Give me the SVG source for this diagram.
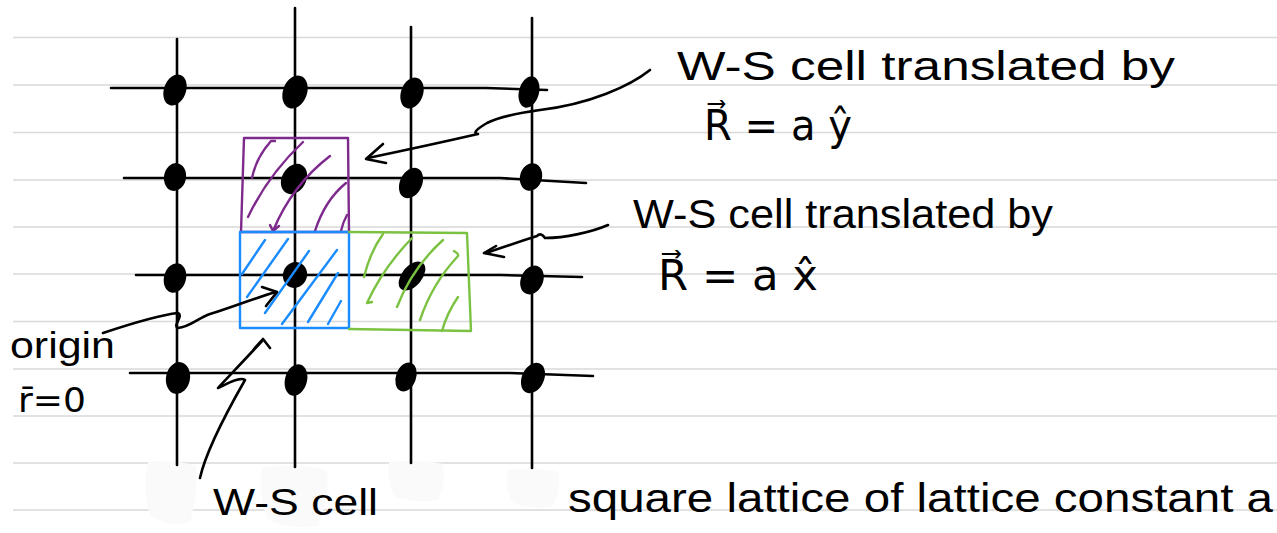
<svg xmlns="http://www.w3.org/2000/svg" width="1277" height="533" viewBox="0 0 1277 533">
<style>
.rule{stroke:#d9d9d9;stroke-width:1.5;fill:none}
.ink{stroke:#000;stroke-width:2.6;fill:none;stroke-linecap:round;stroke-linejoin:round}
.dot{fill:#000}
.pur{stroke:#7e2a8c;stroke-width:2.4;fill:none;stroke-linecap:round;stroke-linejoin:round}
.blu{stroke:#1a8cff;stroke-width:2.4;fill:none;stroke-linecap:round;stroke-linejoin:round}
.grn{stroke:#7cc242;stroke-width:2.4;fill:none;stroke-linecap:round;stroke-linejoin:round}
.txt{font-family:"Liberation Sans",Arial,sans-serif;fill:#000}
.eq{font-family:"DejaVu Sans",sans-serif;fill:#000}
.erase{fill:#fafafa}
</style>
<rect width="1277" height="533" fill="#ffffff"/>
<g id="ruled-lines">
<path class="rule" d="M13 37.5H1277M13 85H1277M13 132.5H1277M13 180H1277M13 227H1277M13 274H1277M13 321.5H1277M13 369H1277M13 416H1277M13 463H1277M13 510H1277"/>
</g>
<g id="erased-marks">
<path class="erase" d="M148 462Q172 458 196 466Q198 495 190 522Q168 528 150 515Q142 490 148 462Z"/>
<path class="erase" d="M262 468Q295 462 327 470Q330 498 318 526Q292 530 268 520Q258 495 262 468Z"/>
<path class="erase" d="M389 462Q418 458 443 464Q446 484 438 500Q414 504 394 496Q386 480 389 462Z"/>
<path class="erase" d="M508 470Q534 466 559 472Q561 492 552 507Q528 510 512 502Q504 486 508 470Z"/>
</g>
<g id="lattice-lines">
<path class="ink" d="M111 88L486 88L547 90"/>
<path class="ink" d="M124 178L500 178L586 183"/>
<path class="ink" d="M136 275L500 275L582 277"/>
<path class="ink" d="M130 373L510 373L593 376"/>
<path class="ink" d="M177 39V465"/>
<path class="ink" d="M295 8V467"/>
<path class="ink" d="M411 27V463"/>
<path class="ink" d="M532 18V468"/>
</g>
<g id="lattice-points">
<ellipse class="dot" cx="175" cy="90" rx="11" ry="16" transform="rotate(20 175 90)"/>
<ellipse class="dot" cx="295" cy="92" rx="12" ry="17" transform="rotate(20 295 92)"/>
<ellipse class="dot" cx="412" cy="93" rx="11" ry="16" transform="rotate(20 412 93)"/>
<ellipse class="dot" cx="529" cy="92" rx="10" ry="16" transform="rotate(15 529 92)"/>
<ellipse class="dot" cx="175" cy="177" rx="11" ry="14" transform="rotate(10 175 177)"/>
<ellipse class="dot" cx="294" cy="179" rx="12" ry="16" transform="rotate(30 294 179)"/>
<ellipse class="dot" cx="411" cy="183" rx="11" ry="16" transform="rotate(25 411 183)"/>
<ellipse class="dot" cx="531" cy="177" rx="11" ry="14" transform="rotate(15 531 177)"/>
<ellipse class="dot" cx="175" cy="278" rx="11" ry="15" transform="rotate(15 175 278)"/>
<ellipse class="dot" cx="295" cy="275" rx="12" ry="13" transform="rotate(20 295 275)"/>
<ellipse class="dot" cx="412" cy="276" rx="10" ry="17" transform="rotate(40 412 276)"/>
<ellipse class="dot" cx="532" cy="280" rx="11" ry="15" transform="rotate(25 532 280)"/>
<ellipse class="dot" cx="178" cy="378" rx="12" ry="16" transform="rotate(10 178 378)"/>
<ellipse class="dot" cx="296" cy="380" rx="11" ry="16" transform="rotate(15 296 380)"/>
<ellipse class="dot" cx="406" cy="377" rx="10" ry="15" transform="rotate(20 406 377)"/>
<ellipse class="dot" cx="533" cy="378" rx="11" ry="16" transform="rotate(25 533 378)"/>
</g>
<g id="ws-cell-translated-y">
<path class="pur" d="M244 138H348L349 232H241Z"/>
<path class="pur" d="M275 141L271 141Q256 158 252 178"/>
<path class="pur" d="M303 142Q268 175 248 217"/>
<path class="pur" d="M330 156Q292 185 273 231L270 225M273 231L279 226"/>
<path class="pur" d="M346 183Q325 200 315 231"/>
<path class="pur" d="M347 215Q343 222 341 231"/>
</g>
<g id="ws-cell">
<path class="blu" d="M240 232H349V328H240Z"/>
<path class="blu" d="M265 240L242 274"/>
<path class="blu" d="M288 239L247 297"/>
<path class="blu" d="M309 251L265 313"/>
<path class="blu" d="M337 250L282 324"/>
<path class="blu" d="M338 273L308 322"/>
<path class="blu" d="M341 301L328 324"/>
</g>
<g id="ws-cell-translated-x">
<path class="grn" d="M349 232L467 233L471 331L349 329"/>
<path class="grn" d="M383 234Q370 252 364 277"/>
<path class="grn" d="M412 238Q383 268 367 303L372 302"/>
<path class="grn" d="M443 240Q412 268 397 307"/>
<path class="grn" d="M454 251Q459 254 458 256Q432 284 420 320"/>
<path class="grn" d="M458 297Q447 313 442 331"/>
</g>
<g id="connectors">
<path class="ink" d="M650 70C630 86 590 104 540 110C512 114 495 119 487 123Q470 133 478 134Q430 145 368 158"/>
<path class="ink" d="M383 144L366 159L386 163"/>
<path class="ink" d="M608 225C592 232 565 238 545 238Q541 232 537 236Q515 243 486 253"/>
<path class="ink" d="M496 246L484 253L504 257"/>
<path class="ink" d="M103 333C130 324 160 315 178 313C184 316 172 326 178 328C190 327 198 318 210 314C235 306 255 298 276 292"/>
<path class="ink" d="M262 287L277 292L266 306"/>
<path class="ink" d="M200 478C205 455 225 415 245 380C240 376 225 385 218 388C225 380 240 365 262 341"/>
<path class="ink" d="M254 349L263 339L270 348"/>
</g>
<g id="labels">
<text class="txt" x="677" y="80" font-size="40" textLength="498" lengthAdjust="spacingAndGlyphs">W-S cell translated by</text>
<text class="eq" x="704" y="140" font-size="42" textLength="148" lengthAdjust="spacingAndGlyphs">R⃗ = a ŷ</text>
<text class="txt" x="633" y="228" font-size="40" textLength="420" lengthAdjust="spacingAndGlyphs">W-S cell translated by</text>
<text class="eq" x="658" y="290" font-size="42" textLength="160" lengthAdjust="spacingAndGlyphs">R⃗ = a x̂</text>
<text class="txt" x="10" y="358" font-size="36" textLength="105" lengthAdjust="spacingAndGlyphs">origin</text>
<text class="eq" x="18" y="412" font-size="34" textLength="68" lengthAdjust="spacingAndGlyphs">r̄=0</text>
<text class="txt" x="213" y="515" font-size="36" textLength="165" lengthAdjust="spacingAndGlyphs">W-S cell</text>
<text class="txt" x="568" y="512" font-size="40" textLength="705" lengthAdjust="spacingAndGlyphs">square lattice of lattice constant a</text>
</g>
</svg>
